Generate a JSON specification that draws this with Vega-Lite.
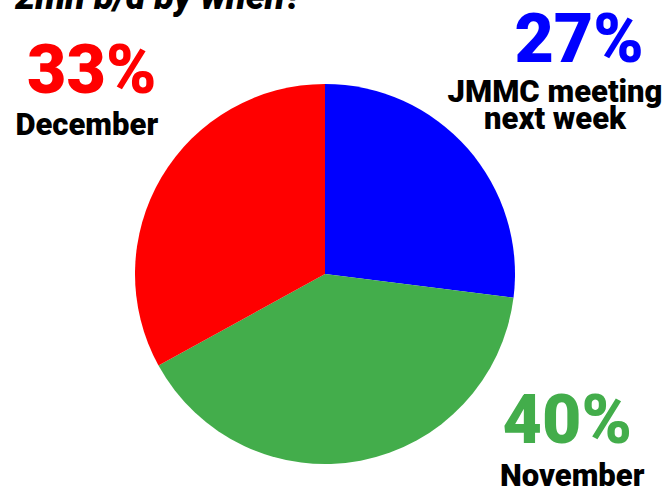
{
  "$schema": "https://vega.github.io/schema/vega-lite/v6.json",
  "width": 650,
  "height": 426,
  "autosize": {"type": "none"},
  "padding": {"left": 0, "top": 61, "right": 18, "bottom": 0},
  "background": "white",
  "view": {"stroke": null},
  "title": {
    "text": "2mn b/d by when?",
    "anchor": "start",
    "frame": "group",
    "baseline": "alphabetic",
    "offset": 0,
    "dy": 37,
    "dx": 15,
    "font": "Roboto",
    "fontSize": 36,
    "fontWeight": 900,
    "fontStyle": "italic",
    "color": "black"
  },
  "data": {
    "values": [
      {"label": "JMMC meeting\nnext week", "share": 0.27, "order": 1},
      {"label": "November", "share": 0.40, "order": 2},
      {"label": "December", "share": 0.33, "order": 3}
    ]
  },
  "encoding": {
    "theta": {"field": "share", "type": "quantitative", "stack": true},
    "order": {"field": "order", "type": "quantitative"},
    "color": {
      "field": "label",
      "type": "nominal",
      "scale": {
        "domain": ["JMMC meeting\nnext week", "November", "December"],
        "range": ["#0000FF", "#43AD4B", "#FF0000"]
      },
      "legend": null
    }
  },
  "layer": [
    {"mark": {"type": "arc", "radius": 190}},
    {
      "mark": {
        "type": "text",
        "radius": 300,
        "font": "Roboto",
        "fontSize": 68,
        "fontWeight": 900,
        "align": "center",
        "baseline": "alphabetic",
        "dx": {"expr": "datum.order == 1 ? 29 : datum.order == 2 ? 186 : 25"},
        "dy": {"expr": "datum.order == 1 ? -14 : datum.order == 2 ? -126 : -28"}
      },
      "encoding": {"text": {"field": "share", "type": "quantitative", "format": ".0%"}}
    },
    {
      "mark": {
        "type": "text",
        "radius": 300,
        "font": "Roboto",
        "fontSize": 31,
        "fontWeight": 900,
        "align": "center",
        "baseline": "alphabetic",
        "lineBreak": "\n",
        "lineHeight": 27,
        "color": "black",
        "dx": {"expr": "datum.order == 1 ? 5 : datum.order == 2 ? 191 : 20"},
        "dy": {"expr": "datum.order == 1 ? 26 : datum.order == 2 ? -83 : 14"}
      },
      "encoding": {
        "text": {"field": "label", "type": "nominal"},
        "color": {"value": "black"}
      }
    }
  ]
}
